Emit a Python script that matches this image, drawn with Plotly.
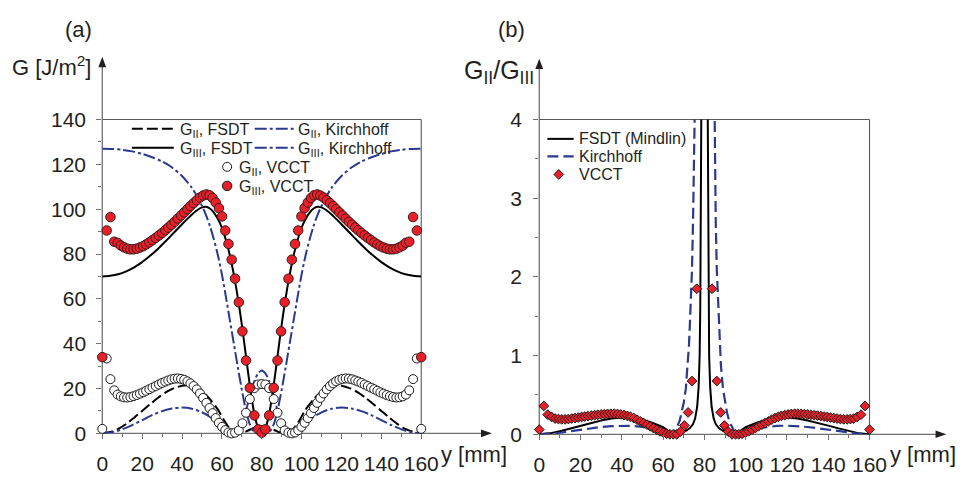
import plotly.graph_objects as go

W, H = 976, 477

# ---------------- data (symmetric about y = 80 mm; left half listed) ----------------
# VCCT sample positions along the front [mm]
vcct_pos = [0.0, 2.2, 4.1, 6.0, 7.7, 9.3, 10.9, 12.5, 14.1, 15.7, 17.3, 18.9, 20.5, 22.0,
            23.6, 25.2, 26.8, 28.4, 30.0, 31.6, 33.1, 34.7, 36.3, 37.9, 39.5, 41.1, 42.7,
            44.2, 45.8, 47.4, 49.0, 50.6, 52.2, 53.8, 55.3, 56.9, 58.5, 60.1, 61.7, 63.3,
            64.9, 66.6, 68.5, 70.3, 72.1, 74.0, 76.3, 78.2, 80.0]
g3_vcct = [34.0, 90.5, 96.5, 85.5, 85.0, 83.8, 83.0, 82.4, 82.1, 82.1, 82.4, 82.9, 83.5, 84.3,
           85.2, 86.2, 87.2, 88.3, 89.4, 90.6, 91.8, 93.1, 94.4, 95.8, 97.2, 98.6, 100.0,
           101.4, 102.7, 104.0, 105.2, 106.1, 106.6, 106.2, 105.0, 103.0, 100.5, 96.8, 90.5,
           84.5, 77.5, 69.0, 58.5, 45.5, 32.5, 20.3, 8.0, 1.8, 0.3]
g2_vcct = [2.0, 33.4, 24.2, 19.2, 17.3, 16.5, 16.1, 16.0, 16.2, 16.6, 17.1, 17.7, 18.3, 19.0,
           19.7, 20.4, 21.1, 21.8, 22.5, 23.1, 23.6, 24.1, 24.4, 24.5, 24.3, 23.9, 23.2,
           22.3, 21.1, 19.6, 17.8, 15.8, 13.6, 11.3, 9.0, 6.8, 4.7, 2.9, 1.4, 0.4,
           0.0, 0.3, 1.3, 4.5, 9.2, 15.3, 20.2, 21.8, 22.0]
ratio_vcct = [0.06, 0.36, 0.25, 0.22, 0.20, 0.194, 0.19, 0.19, 0.194, 0.20, 0.206, 0.213, 0.22,
              0.226, 0.232, 0.238, 0.243, 0.248, 0.252, 0.256, 0.259, 0.261, 0.262, 0.258,
              0.252, 0.244, 0.234, 0.222, 0.206, 0.186, 0.164, 0.143, 0.123, 0.102, 0.08,
              0.058, 0.038, 0.02, 0.007, 0.0, 0.0, 0.0, 0.035, 0.112, 0.278, 0.677, 1.85,
              None, None]

# FSDT (Mindlin) solutions, panel (a)
g2_fsdt_pos = [0, 4, 8, 12, 16, 20, 24, 28, 32, 36, 40, 43, 46, 50, 54, 58, 61, 63, 65, 66.5,
               68, 70, 72, 74, 76, 78, 80]
g2_fsdt = [0.0, 0.6, 2.0, 4.2, 7.0, 10.0, 13.0, 15.9, 18.4, 20.2, 21.2, 21.4, 20.9, 18.8, 15.2,
           10.6, 6.0, 3.2, 1.0, 0.2, 0.0, 0.2, 0.8, 1.6, 2.4, 3.0, 3.3]
g3_fsdt_pos = [0, 4, 8, 12, 16, 20, 24, 28, 32, 36, 40, 44, 47, 50, 52, 54, 56, 58, 60, 62, 64,
               66, 68, 70, 72, 74, 76, 78, 80]
g3_fsdt = [70.0, 70.3, 71.0, 72.3, 74.1, 76.4, 79.2, 82.4, 85.9, 89.6, 93.3, 96.8, 99.2, 100.8,
           101.1, 100.3, 98.5, 95.6, 91.8, 86.3, 79.5, 70.8, 60.5, 48.5, 35.0, 21.5, 10.0, 2.8,
           0.0]

# Kirchhoff solutions, panel (a)
g2_kirch_pos = [0, 5, 10, 15, 20, 25, 30, 35, 40, 45, 50, 55, 58, 61, 63, 65, 66, 67, 68, 70,
                72, 74, 76, 78, 80]
g2_kirch = [0.0, 0.5, 1.8, 3.7, 5.9, 8.1, 9.9, 11.1, 11.5, 11.0, 9.4, 6.8, 4.8, 2.6, 1.2, 0.3,
            0.3, 0.9, 2.0, 5.0, 10.0, 16.5, 22.5, 26.5, 28.0]
g3_kirch_pos = [0, 5, 10, 15, 20, 25, 30, 35, 40, 45, 48, 50, 52, 54, 56, 58, 60, 62, 64, 66,
                68, 70, 72, 74, 76, 78, 80]
g3_kirch = [127.0, 126.9, 126.5, 125.8, 124.7, 123.2, 121.3, 118.6, 114.8, 109.5, 105.0, 101.5,
            97.5, 92.5, 86.5, 79.5, 71.0, 61.0, 50.5, 40.0, 29.5, 19.5, 10.5, 4.0, 0.8, 0.0,
            0.0]

# G_II / G_III, panel (b)
ratio_fsdt_pos = [0, 5, 10, 15, 20, 25, 30, 35, 40, 45, 50, 55, 60, 63, 65, 67, 69, 71, 73,
                  74.5, 75.5, 76.5, 77.2, 77.7, 78.0, 78.2, 78.4, 78.55, 78.8, 80]
ratio_fsdt = [0.0, 0.012, 0.04, 0.075, 0.11, 0.145, 0.175, 0.2, 0.213, 0.208, 0.185, 0.145,
              0.09, 0.035, 0.02, 0.02, 0.03, 0.045, 0.08, 0.13, 0.2, 0.35, 0.6, 1.0, 1.6, 2.2,
              3.3, 4.3, 6.0, 12.0]
ratio_kirch_pos = [0, 5, 10, 15, 20, 25, 30, 35, 40, 45, 50, 55, 58, 60, 62, 64, 65, 66, 67,
                   68, 69, 70, 71, 72, 72.5, 73, 73.5, 74, 74.5, 75, 75.3, 75.8, 80]
ratio_kirch = [0.0, 0.006, 0.02, 0.038, 0.058, 0.077, 0.093, 0.105, 0.11, 0.106, 0.095, 0.075,
               0.055, 0.04, 0.02, 0.008, 0.02, 0.06, 0.11, 0.17, 0.27, 0.4, 0.58, 0.88, 1.12,
               1.42, 1.75, 2.1, 2.7, 3.6, 4.3, 6.0, 12.0]

SPAN = 160.0


def mirror(pos, vals):
    """Extend a half-span series (0..80 mm) to the full 0..160 mm span."""
    full_x = list(pos) + [SPAN - p for p in reversed(pos[:-1])]
    full_y = list(vals) + list(reversed(vals[:-1]))
    return full_x, full_y


# ---------------- styles ----------------
BLUE = "#2b3990"
RED = "#e8202a"
INK = "#231f20"
AXC = "#6f6f6f"
FONT = "Liberation Sans, Arial, sans-serif"
DASH_LONG = "11px,4px"
DASH_DOT = "12px,3px,3px,3px"
DASH_K = "11px,5px"

# plot-area geometry in pixels
AX0, AX1 = 98.7, 425.7      # panel (a) x: 0 .. 160
AY0, AY1 = 442.7, 113.0     # panel (a) y: 0 .. 140
BX0, BX1 = 546.7, 885.3     # panel (b) x: 0 .. 160
BY0, BY1 = 443.7, 113.0     # panel (b) y: 0 .. 4


def fx(p):
    return p / W


def fy(p):
    return 1 - p / H


fig = go.Figure()

# ---- panel (a) ----
for pos, vals, dash, color in [
    (g2_fsdt_pos, g2_fsdt, DASH_LONG, "black"),
    (g2_kirch_pos, g2_kirch, DASH_DOT, BLUE),
    (g3_fsdt_pos, g3_fsdt, "solid", "black"),
    (g3_kirch_pos, g3_kirch, DASH_DOT, BLUE),
]:
    x, y = mirror(pos, vals)
    fig.add_trace(go.Scatter(x=x, y=y, mode="lines", xaxis="x", yaxis="y",
                             line=dict(color=color, width=2, dash=dash, shape="spline",
                                       smoothing=0.8),
                             showlegend=False, hoverinfo="skip"))

x, y = mirror(vcct_pos, g2_vcct)
fig.add_trace(go.Scatter(x=x, y=y, mode="markers", xaxis="x", yaxis="y", cliponaxis=False,
                         marker=dict(symbol="circle", size=9, color="white",
                                     line=dict(color="#1a1a1a", width=1)),
                         showlegend=False, hoverinfo="skip"))
x, y = mirror(vcct_pos, g3_vcct)
fig.add_trace(go.Scatter(x=x, y=y, mode="markers", xaxis="x", yaxis="y", cliponaxis=False,
                         marker=dict(symbol="circle", size=9.5, color=RED,
                                     line=dict(color="#3a1a1a", width=1)),
                         showlegend=False, hoverinfo="skip"))

# ---- panel (b) ----
x, y = mirror(ratio_fsdt_pos, ratio_fsdt)
fig.add_trace(go.Scatter(x=x, y=y, mode="lines", xaxis="x2", yaxis="y2",
                         line=dict(color="black", width=2),
                         showlegend=False, hoverinfo="skip"))
x, y = mirror(ratio_kirch_pos, ratio_kirch)
fig.add_trace(go.Scatter(x=x, y=y, mode="lines", xaxis="x2", yaxis="y2",
                         line=dict(color=BLUE, width=2.2, dash=DASH_K),
                         showlegend=False, hoverinfo="skip"))
x, y = mirror(vcct_pos, ratio_vcct)
fig.add_trace(go.Scatter(x=x, y=y, mode="markers", xaxis="x2", yaxis="y2", cliponaxis=False,
                         marker=dict(symbol="diamond", size=7.5, color=RED,
                                     line=dict(color="#1a1a1a", width=1)),
                         showlegend=False, hoverinfo="skip"))

# ---- legend samples (pixel-space overlay axes) ----
def sample_line(x0, x1, yy, color, dash, width=2):
    fig.add_trace(go.Scatter(x=[x0, x1], y=[yy, yy], mode="lines", xaxis="x3", yaxis="y3",
                             line=dict(color=color, width=width, dash=dash),
                             showlegend=False, hoverinfo="skip"))


def sample_marker(xx, yy, symbol, size, fill):
    fig.add_trace(go.Scatter(x=[xx], y=[yy], mode="markers", xaxis="x3", yaxis="y3",
                             cliponaxis=False,
                             marker=dict(symbol=symbol, size=size, color=fill,
                                         line=dict(color="#1a1a1a", width=1)),
                             showlegend=False, hoverinfo="skip"))


sample_line(129, 172, 122.7, "black", DASH_LONG)
sample_line(129, 172, 142.7, "black", "solid")
sample_line(255, 297, 122.7, BLUE, DASH_DOT)
sample_line(255, 297, 142.7, BLUE, DASH_DOT)
sample_marker(226.7, 162.7, "circle", 9, "white")
sample_marker(226.7, 182.7, "circle", 9.5, RED)

sample_line(555, 582, 133.3, "black", "solid")
sample_line(555, 582, 151.7, BLUE, DASH_K, 2.2)
sample_marker(566.7, 170.7, "diamond", 7.5, RED)

annotations = []


def text(xp, yp, s, size, anchor="left"):
    annotations.append(dict(x=fx(xp), y=fy(yp), xref="paper", yref="paper", text=s,
                            showarrow=False, xanchor=anchor, yanchor="middle",
                            font=dict(family=FONT, size=size, color=INK)))


LEG = 16
text(176, 124, "G<sub>II</sub>, FSDT", LEG)
text(176, 144, "G<sub>III</sub>, FSDT", LEG)
text(297, 124, "G<sub>II</sub>, Kirchhoff", LEG)
text(297, 144, "G<sub>III</sub>, Kirchhoff", LEG)
text(237, 164, "G<sub>II</sub>, VCCT", LEG)
text(237, 184, "G<sub>III</sub>, VCCT", LEG)
text(585, 133.3, "FSDT (Mindlin)", LEG)
text(585, 151.7, "Kirchhoff", LEG)
text(585, 170.7, "VCCT", LEG)

text(74.5, 18.5, "(a)", 22, "center")
text(518, 18.5, "(b)", 22, "center")
text(4, 57, "G [J/m<sup>2</sup>]", 22)
text(467, 63, "G<sub>II</sub>/G<sub>III</sub>", 25)
text(444, 465, "y [mm]", 22)
text(904, 465, "y [mm]", 22)

# ---- axis arrows and frame ----
shapes = []


def seg(x0, y0, x1, y1, color=AXC, width=1.3):
    shapes.append(dict(type="line", xref="paper", yref="paper", x0=fx(x0), y0=fy(y0),
                       x1=fx(x1), y1=fy(y1), line=dict(color=color, width=width),
                       layer="below"))


def arrow_up(xt, yt):
    shapes.append(dict(type="path", xref="paper", yref="paper",
                       path=f"M {fx(xt)} {fy(yt)} L {fx(xt - 4)} {fy(yt + 11)} "
                            f"L {fx(xt + 4)} {fy(yt + 11)} Z",
                       fillcolor=INK, line=dict(width=0), layer="above"))


def arrow_right(xt, yt):
    shapes.append(dict(type="path", xref="paper", yref="paper",
                       path=f"M {fx(xt)} {fy(yt)} L {fx(xt - 11)} {fy(yt - 4)} "
                            f"L {fx(xt - 11)} {fy(yt + 4)} Z",
                       fillcolor=INK, line=dict(width=0), layer="above"))


# panel (a)
seg(AX0, AY0, AX0, 50)
seg(AX0, AY0, 496, AY0)
seg(AX0, AY1, AX1, AY1, "#5a5a5a", 1.1)
seg(AX1, AY0, AX1, AY1, "#5a5a5a", 1.1)
arrow_up(AX0, 47)
arrow_right(498, AY0)
# panel (b)
seg(BX0, BY0, BX0, 52)
seg(BX0, BY0, 962, BY0)
seg(BX0, BY1, BX1, BY1, "#5a5a5a", 1.1)
seg(BX1, BY0, BX1, BY1, "#5a5a5a", 1.1)
arrow_up(BX0, 49)
arrow_right(964, BY0)

tickfont = dict(family=FONT, size=21, color=INK)
common = dict(showgrid=False, zeroline=False, showline=False, ticks="outside", ticklen=5,
              tickwidth=1.2, tickcolor=AXC, tickfont=tickfont, fixedrange=True)
minor_x = dict(dtick=10, ticks="outside", ticklen=3, tickcolor=AXC, tickwidth=1.2)

fig.update_layout(
    width=W, height=H,
    margin=dict(l=0, r=0, t=0, b=0),
    paper_bgcolor="white", plot_bgcolor="rgba(0,0,0,0)",
    showlegend=False,
    xaxis=dict(domain=[fx(AX0), fx(AX1)], range=[0, 160], tick0=0, dtick=20, anchor="y",
               ticklabelstandoff=6, minor=minor_x, **common),
    yaxis=dict(domain=[fy(AY0), fy(AY1)], range=[0, 140], tick0=0, dtick=20, anchor="x",
               ticklabelstandoff=6, minor=minor_x, **common),
    xaxis2=dict(domain=[fx(BX0), fx(BX1)], range=[0, 160], tick0=0, dtick=20, anchor="y2",
                ticklabelstandoff=6, minor=minor_x, **common),
    yaxis2=dict(domain=[fy(BY0), fy(BY1)], range=[0, 4], tick0=0, dtick=1, anchor="x2",
                ticklabelstandoff=7,
                minor=dict(dtick=0.5, ticks="outside", ticklen=3, tickcolor=AXC,
                           tickwidth=1.2),
                **common),
    xaxis3=dict(domain=[0, 1], range=[0, W], visible=False, anchor="y3", fixedrange=True),
    yaxis3=dict(domain=[0, 1], range=[H, 0], visible=False, anchor="x3", fixedrange=True),
    annotations=annotations,
    shapes=shapes,
)

fig.write_html("out.html")
